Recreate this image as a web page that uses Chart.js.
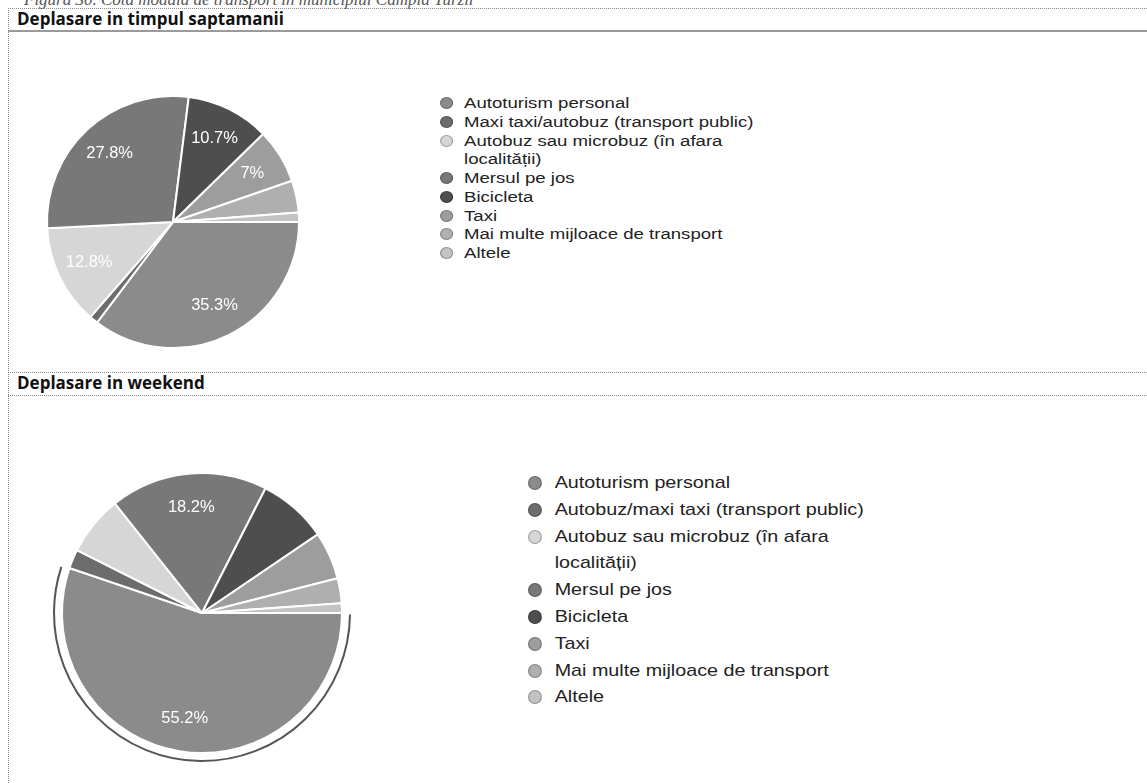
<!DOCTYPE html>
<html lang="ro">
<head>
<meta charset="utf-8">
<title>Cota modală de transport</title>
<script src="https://cdn.jsdelivr.net/npm/chart.js@4.4.1/dist/chart.umd.min.js"></script>
<style>
    body {
        margin: 0;
        background: #fff;
        width: 1147px;
        height: 783px;
        overflow: hidden;
        position: relative;
        font-family: "Liberation Sans", Arial, sans-serif;
    }
    .titlu {
        position: absolute;
        left: 24px;
        top: -8px;
        font: italic 17px/15px "Liberation Serif", serif;
        color: #555;
        white-space: nowrap;
    }
    .orizontal { position: absolute; left: 8px; right: 0; border-top: 1px dotted #8a8a8a; }
    .gros { border-top: 2px solid #9a9a9a; }
    .vertical { position: absolute; left: 8px; top: 8px; bottom: 0; border-left: 1px dotted #8a8a8a; }
    .antet {
        position: absolute;
        left: 17px;
        font: bold 17px/20px "Open Sans", sans-serif;
        color: #111;
        white-space: nowrap;
    }
    .grafic { position: absolute; }
    .legenda {
        position: absolute;
        margin: 0;
        padding: 0;
        list-style: none;
        color: #222;
        transform-origin: 0 0;
    }
    .legenda li { position: relative; white-space: nowrap; }
    .legenda .punct {
        position: absolute;
        border-radius: 50%;
        border: 1px solid rgba(0,0,0,0.25);
        box-sizing: border-box;
    }
    /* textul din original e lat (scanat), de aici scaleX */
    #legenda1 { left: 440px; top: 94px; font-size: 15.5px; line-height: 18.75px; transform: scaleX(1.2); }
    #legenda1 li { padding-left: 20px; }
    #legenda1 .punct { left: 0; top: 3px; width: 11px; height: 12px; }
    #legenda2 { left: 528px; top: 470px; font-size: 17px; line-height: 26.8px; transform: scaleX(1.16); }
    #legenda2 li { padding-left: 23px; }
    #legenda2 .punct { left: 0; top: 6px; width: 12px; height: 14px; }
</style>
</head>
<body>
<div class="titlu">Figura 30. Cota modală de transport în municipiul Câmpia Turzii</div>
<div class="vertical"></div>
<div class="orizontal" style="top:8px"></div>
<div class="antet" style="top:9px">Deplasare in timpul saptamanii</div>
<div class="orizontal gros" style="top:30px"></div>
<canvas id="graficSaptamana" class="grafic" width="262" height="262" style="left:42px; top:91px"></canvas>
<ul id="legenda1" class="legenda"></ul>
<div class="orizontal" style="top:372px"></div>
<div class="antet" style="top:373px">Deplasare in weekend</div>
<div class="orizontal" style="top:395px"></div>
<canvas id="graficWeekend" class="grafic" width="306" height="306" style="left:49px; top:460px"></canvas>
<ul id="legenda2" class="legenda"></ul>

<script>
// Categorii (in ordinea legendei) - un element cu doua randuri e un array
const categoriiSaptamana = [
    'Autoturism personal',
    'Maxi taxi/autobuz (transport public)',
    ['Autobuz sau microbuz (în afara', 'localității)'],
    'Mersul pe jos',
    'Bicicleta',
    'Taxi',
    'Mai multe mijloace de transport',
    'Altele'
];
const categoriiWeekend = [
    'Autoturism personal',
    'Autobuz/maxi taxi (transport public)',
    ['Autobuz sau microbuz (în afara', 'localității)'],
    'Mersul pe jos',
    'Bicicleta',
    'Taxi',
    'Mai multe mijloace de transport',
    'Altele'
];

// Procente (cele fara eticheta sunt estimate)
const valoriSaptamana = [35.3, 1.1, 12.8, 27.8, 10.7, 7.0, 4.1, 1.2];
const valoriWeekend = [55.2, 2.2, 6.9, 18.2, 8.0, 5.5, 2.9, 1.1];

const culori = ['#8b8b8b', '#6c6c6c', '#d6d6d6', '#787878', '#4e4e4e', '#9d9d9d', '#afafaf', '#c3c3c3'];

function formatProcent(v) {
    // 7.0 -> "7%", 35.3 -> "35.3%"
    return (Math.round(v * 10) / 10).toString() + '%';
}

// Etichetele cu procente pe felii
const pluginProcente = {
    id: 'procente',
    afterDatasetsDraw(chart, args, opts) {
        const ctx = chart.ctx;
        const meta = chart.getDatasetMeta(0);
        const date = chart.data.datasets[0].data;
        ctx.save();
        ctx.font = '16.5px "Liberation Sans", Arial, sans-serif';
        ctx.fillStyle = '#ffffff';
        ctx.textAlign = 'center';
        ctx.textBaseline = 'middle';
        meta.data.forEach((arc, i) => {
            if (date[i] < opts.prag) return;
            const p = arc.getProps(['x', 'y', 'startAngle', 'endAngle', 'outerRadius'], true);
            const mijloc = (p.startAngle + p.endAngle) / 2;
            const r = p.outerRadius * opts.distanta;
            ctx.fillText(formatProcent(date[i]), p.x + Math.cos(mijloc) * r, p.y + Math.sin(mijloc) * r);
        });
        ctx.restore();
    }
};

// Inelul subtire din jurul feliei selectate
const pluginSelectie = {
    id: 'selectie',
    afterDatasetsDraw(chart, args, opts) {
        if (opts.index === undefined || opts.index === null) return;
        const arc = chart.getDatasetMeta(0).data[opts.index];
        const p = arc.getProps(['x', 'y', 'startAngle', 'endAngle', 'outerRadius'], true);
        const ctx = chart.ctx;
        ctx.save();
        ctx.strokeStyle = '#555555';
        ctx.lineWidth = 2;
        ctx.beginPath();
        ctx.arc(p.x, p.y, p.outerRadius + 8, p.startAngle + 0.01, p.endAngle - 0.01);
        ctx.stroke();
        ctx.restore();
    }
};

function construiesteLegenda(chart, idLista) {
    const lista = document.getElementById(idLista);
    lista.innerHTML = '';
    const ds = chart.data.datasets[0];
    chart.data.labels.forEach((eticheta, i) => {
        const li = document.createElement('li');
        const punct = document.createElement('span');
        punct.className = 'punct';
        punct.style.background = ds.backgroundColor[i];
        li.appendChild(punct);
        const text = Array.isArray(eticheta) ? eticheta.join('<br>') : eticheta;
        li.insertAdjacentHTML('beforeend', text);
        lista.appendChild(li);
    });
}

function creeazaPie(idCanvas, categorii, valori, padding, prag, distanta, selectat) {
    return new Chart(document.getElementById(idCanvas), {
        type: 'pie',
        data: {
            labels: categorii,
            datasets: [{
                data: valori,
                backgroundColor: culori,
                borderColor: '#ffffff',
                borderWidth: 2
            }]
        },
        options: {
            responsive: false,
            animation: false,
            rotation: 90, // incepe de la ora 3, ca in original
            layout: { padding: padding },
            plugins: {
                legend: { display: false },
                tooltip: { enabled: false },
                procente: { prag: prag, distanta: distanta },
                selectie: { index: selectat }
            }
        },
        plugins: [pluginProcente, pluginSelectie]
    });
}

const chartSaptamana = creeazaPie('graficSaptamana', categoriiSaptamana, valoriSaptamana, 4, 6, 0.74, null);
const chartWeekend = creeazaPie('graficWeekend', categoriiWeekend, valoriWeekend, 12, 10, 0.76, 0);

construiesteLegenda(chartSaptamana, 'legenda1');
construiesteLegenda(chartWeekend, 'legenda2');
</script>
</body>
</html>
